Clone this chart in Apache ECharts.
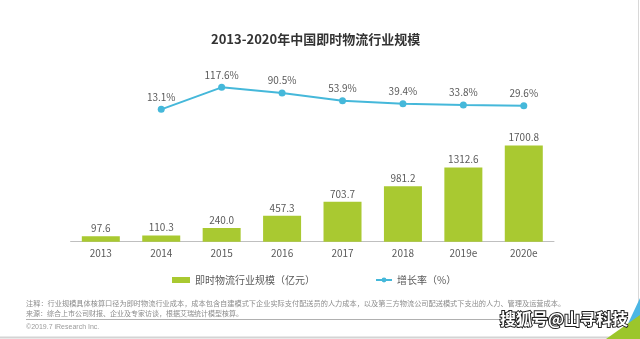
<!DOCTYPE html>
<html>
<head>
<meta charset="utf-8">
<script src="https://cdn.jsdelivr.net/npm/echarts@6/dist/echarts.min.js"></script>
<style>
  html, body { margin: 0; padding: 0; background: #fff; }
  #chart { width: 640px; height: 339px; }
</style>
</head>
<body>
<div id="chart"></div>
<script>
// Chart data
const years = ['2013', '2014', '2015', '2016', '2017', '2018', '2019e', '2020e'];
const marketSize = [97.6, 110.3, 240.0, 457.3, 703.7, 981.2, 1312.6, 1700.8];
const growthRate = [null, 13.1, 117.6, 90.5, 53.9, 39.4, 33.8, 29.6];
const sizeName = '即时物流行业规模（亿元）';
const rateName = '增长率（%）';
const titleText = '2013-2020年中国即时物流行业规模';
const noteLine1 = '注释：行业规模具体核算口径为即时物流行业成本，成本包含自建模式下企业实际支付配送员的人力成本，以及第三方物流公司配送模式下支出的人力、管理及运营成本。';
const noteLine2 = '来源：综合上市公司财报、企业及专家访谈，根据艾瑞统计模型核算。';
const copyright = '©2019.7 iResearch Inc.';
const watermark = '搜狐号@山寻科技';

const FONT = '"Noto Sans CJK SC", "Noto Sans", sans-serif';
const GREEN = '#a9c931';
const BLUE = '#45b8da';
const LABEL = '#5a5a5a';

const chart = echarts.init(document.getElementById('chart'), null, { renderer: 'canvas' });

chart.setOption({
  backgroundColor: '#ffffff',
  animation: false,
  textStyle: { fontFamily: FONT },
  title: {
    text: titleText,
    left: 206,
    top: 28,
    textStyle: { fontFamily: FONT, fontSize: 13, fontWeight: 'bold', color: '#333333' }
  },
  legend: [
    {
      data: [{ name: sizeName, icon: 'rect' }],
      left: 167, top: 270,
      itemWidth: 18, itemHeight: 6,
      textStyle: { fontFamily: FONT, fontSize: 10, color: LABEL }
    },
    {
      data: [{ name: rateName }],
      left: 370, top: 270,
      itemWidth: 16, itemHeight: 6,
      textStyle: { fontFamily: FONT, fontSize: 10, color: LABEL }
    }
  ],
  grid: [
    { left: 70.6, right: 86, top: 128.5, height: 113.2, containLabel: false },
    { left: 70.6, right: 86, top: 70, height: 42.1, containLabel: false }
  ],
  xAxis: [
    {
      type: 'category', gridIndex: 0, data: years,
      axisLine: { lineStyle: { color: '#bfbfbf', width: 1 } },
      axisTick: { show: false },
      axisLabel: { fontFamily: FONT, fontSize: 10, color: LABEL, margin: 7 }
    },
    {
      type: 'category', gridIndex: 1, data: years, show: false
    }
  ],
  yAxis: [
    { type: 'value', gridIndex: 0, min: 0, max: 2000, show: false, splitLine: { show: false } },
    { type: 'value', gridIndex: 1, min: 0, max: 200, show: false, splitLine: { show: false } }
  ],
  series: [
    {
      name: sizeName,
      type: 'bar',
      xAxisIndex: 0, yAxisIndex: 0,
      data: marketSize,
      barWidth: 38,
      itemStyle: { color: GREEN },
      label: {
        show: true, position: 'top', distance: 3,
        fontFamily: FONT, fontSize: 10, color: LABEL,
        formatter: p => p.value.toFixed(1)
      }
    },
    {
      name: rateName,
      type: 'line',
      xAxisIndex: 1, yAxisIndex: 1,
      data: growthRate,
      symbol: 'circle', symbolSize: 7,
      lineStyle: { color: BLUE, width: 2 },
      itemStyle: { color: BLUE },
      label: {
        show: true, position: 'top', distance: 4,
        fontFamily: FONT, fontSize: 10, color: LABEL,
        formatter: p => p.value.toFixed(1) + '%'
      }
    }
  ],
  graphic: [
    // footnotes
    { type: 'text', left: 26, top: 300, style: { text: noteLine1, font: '7.2px ' + FONT, fill: '#8c8c8c' } },
    { type: 'text', left: 26, top: 309.5, style: { text: noteLine2, font: '7px ' + FONT, fill: '#8c8c8c' } },
    { type: 'line', shape: { x1: 26, y1: 319.5, x2: 612, y2: 319.5 }, style: { stroke: '#b0b0b0', lineWidth: 1 } },
    { type: 'text', left: 26, top: 324, style: { text: copyright, font: '7px "Liberation Sans", Arial, sans-serif', fill: '#9a9a9a' } },
    // page frame
    { type: 'line', shape: { x1: 0, y1: 337.5, x2: 640, y2: 337.5 }, style: { stroke: '#d4d4d4', lineWidth: 2 } },
    { type: 'line', shape: { x1: 638.5, y1: 0, x2: 638.5, y2: 339 }, style: { stroke: '#d8d8d8', lineWidth: 1 } },
    // corner decoration
    { type: 'polygon', shape: { points: [[640, 298], [640, 320], [625, 330]] }, style: { fill: '#4bb6e4' } },
    { type: 'polygon', shape: { points: [[606, 339], [640, 339], [640, 315]] }, style: { fill: '#9cc62b' } },
    // watermark outline layer
    {
      type: 'text', x: 500, y: 311, z: 10,
      style: {
        text: watermark,
        font: 'bold 16px ' + FONT,
        fill: '#222222', stroke: '#222222', lineWidth: 2
      }
    },
    // watermark glyph layer
    {
      type: 'text', x: 500, y: 311, z: 11,
      style: {
        text: watermark,
        font: 'bold 16px ' + FONT,
        fill: '#ffffff'
      }
    }
  ]
});
</script>
</body>
</html>
